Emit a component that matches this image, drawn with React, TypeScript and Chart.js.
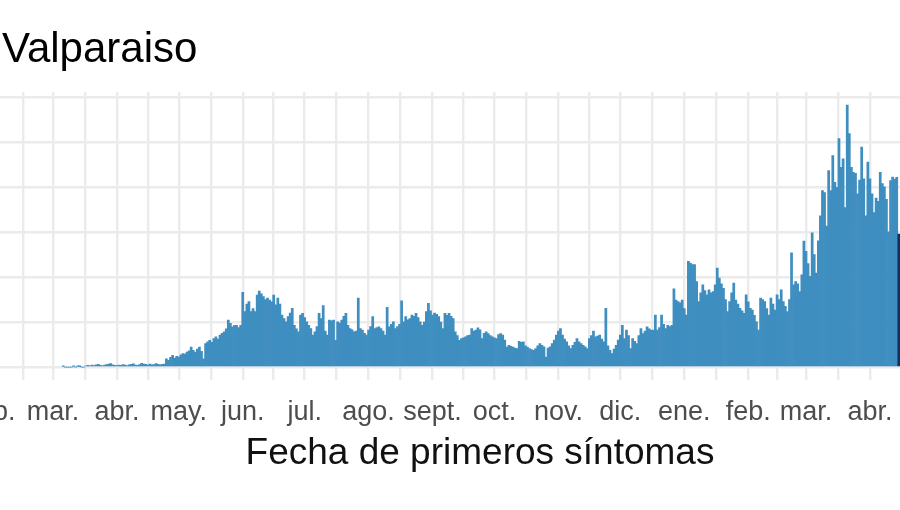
import React, { useEffect, useRef } from "react";
import { Chart, registerables } from "chart.js";

Chart.register(...registerables);

const TITLE = "Valparaiso";
const X_TITLE = "Fecha de primeros síntomas";
const FONT = '"Liberation Sans", Arial, Helvetica, sans-serif';

// month breaks (x axis) and their labels
const MONTH_DATES = [
  "2020-01-01", "2020-02-01", "2020-03-01", "2020-04-01", "2020-05-01", "2020-06-01",
  "2020-07-01", "2020-08-01", "2020-09-01", "2020-10-01", "2020-11-01",
  "2020-12-01", "2021-01-01", "2021-02-01", "2021-03-01", "2021-04-01",
  "2021-05-01", "2021-06-01",
];
const MONTH_LABELS = [
  "ene.", "feb.", "mar.", "abr.", "may.", "jun.", "jul.", "ago.", "sept.", "oct.",
  "nov.", "dic.", "ene.", "feb.", "mar.", "abr.", "may.", "jun.",
];

// y grid values (axis labels are cropped out of the picture)
const Y_GRID = [0, 200, 400, 600, 800, 1000, 1200];
const Y_MIN = -58;
const Y_MAX = 1221;

// visible date window, in days from 2020-03-01
const X_MIN = -40.2;
const X_MAX = 454.2;

// daily cases by date of first symptoms, starting at START_DATE
const START_DATE = "2020-03-06";
const CASES = [
  3, 0, 0, 0, 0, 3, 0, 3, 2, 0, 0,
  6, 8, 5, 9, 7, 10, 12, 8, 6, 9, 11, 14, 16, 10, 8, 7, 9, 8, 11, 9,
  7, 10, 12, 15, 9, 8, 11, 17, 13, 12, 9, 14, 10, 11, 16, 12, 10, 12, 13,
  37, 30, 44, 52, 40, 48, 45, 55, 60, 58,
  67, 72, 89, 75, 67, 80, 89, 70, 37, 105,
  112, 119, 110, 127, 134, 125, 142, 150, 157, 170,
  209, 194, 179, 185, 186, 175, 186, 332, 246, 280,
  291, 246, 260, 246, 320, 338, 325, 313, 300, 306,
  298, 290, 320, 276, 306, 280, 231, 215, 201, 224,
  240, 261, 186, 170, 157, 231, 239, 220, 201, 185,
  171, 142, 157, 180, 239, 215, 273, 160, 142, 209,
  205, 209, 119, 201, 195, 209, 225, 239, 186, 171,
  165, 157, 160, 306, 171, 164, 150, 142, 164, 180,
  224, 171, 175, 179, 171, 160, 142, 265, 179, 190,
  201, 171, 180, 190, 294, 201, 224, 210, 216, 231,
  225, 239, 220, 201, 186, 200, 246, 283, 250, 231,
  240, 234, 224, 200, 171, 239, 230, 239, 225, 216,
  157, 140, 119, 127, 130, 134, 140, 142, 171, 160,
  164, 174, 165, 127, 150, 157, 149, 140, 134, 130,
  127, 145, 149, 142, 120, 89, 97, 92, 89, 85,
  82, 115, 110, 112, 95, 89, 82, 78, 75, 82,
  95, 104, 97, 90, 45, 85, 90, 104, 120, 142,
  160, 171, 142, 125, 112, 95, 82, 97, 110, 127,
  112, 105, 97, 90, 82, 127, 140, 160, 134, 138,
  142, 125, 112, 261, 95, 75, 60, 80, 97, 120,
  142, 186, 127, 164, 140, 82, 127, 115, 104, 140,
  171, 149, 160, 179, 170, 164, 164, 231, 164, 175,
  231, 190, 171, 186, 180, 186, 347, 298, 291, 285,
  298, 260, 231, 470, 462, 455, 455, 380, 291, 330,
  365, 340, 321, 343, 330, 335, 365, 440, 395, 370,
  350, 300, 246, 291, 330, 373, 298, 280, 261, 250,
  239, 321, 290, 261, 253, 230, 201, 164, 306, 300,
  291, 260, 231, 306, 280, 253, 321, 300, 343, 291,
  270, 246, 300, 507, 365, 380, 370, 335, 410, 559,
  514, 460, 403, 596, 500, 417, 560, 671, 783, 775,
  626, 872, 783, 939, 820, 798, 1014, 887, 924, 708,
  1163, 1037, 887, 865, 860, 769, 830, 977, 836, 671,
  910, 836, 769, 686, 750, 736, 865, 815, 800, 745,
  600, 828, 843, 835, 842, 590,
];

const BAR_COLOR = "#3f8ec0";
const LAST_BAR_COLOR = "#12305f";
const GRID_COLOR = "#ebebeb";

const DAY_MS = 86400000;
const ORIGIN = Date.parse("2020-03-01T00:00:00Z");
const dayOf = (s: string) => Math.round((Date.parse(s + "T00:00:00Z") - ORIGIN) / DAY_MS);

const titlePlugin = {
  id: "plotTitle",
  afterDraw(chart: any) {
    const ctx = chart.ctx;
    ctx.save();
    ctx.font = `42px ${FONT}`;
    ctx.fillStyle = "#000000";
    ctx.textAlign = "left";
    ctx.textBaseline = "alphabetic";
    ctx.fillText(TITLE, 32, 62);
    ctx.restore();
  },
};

export default function App() {
  const ref = useRef<HTMLCanvasElement | null>(null);

  useEffect(() => {
    if (!ref.current) return;
    const start = dayOf(START_DATE);
    const points = CASES.map((v, i) => ({ x: start + i, y: v }));
    const colors = CASES.map((_, i) => (i === CASES.length - 1 ? LAST_BAR_COLOR : BAR_COLOR));

    const majors = MONTH_DATES.map(dayOf);
    const labelMap = new Map<number, string>();
    const tickValues: number[] = [];
    majors.forEach((d, i) => {
      if (d >= X_MIN && d <= X_MAX) {
        tickValues.push(d);
        labelMap.set(d, MONTH_LABELS[i]);
      }
      if (i < majors.length - 1) {
        const mid = (d + majors[i + 1]) / 2;
        if (mid >= X_MIN && mid <= X_MAX) tickValues.push(mid);
      }
    });
    tickValues.sort((a, b) => a - b);

    const chart = new Chart(ref.current, {
      type: "bar",
      data: {
        datasets: [
          {
            data: points as any,
            backgroundColor: colors,
            borderWidth: 0,
            barPercentage: 1,
            categoryPercentage: 1,
          },
        ],
      },
      options: {
        animation: false,
        responsive: false,
        events: [],
        layout: { padding: { top: 92, bottom: 34, left: 0, right: 0 } },
        plugins: {
          legend: { display: false },
          tooltip: { enabled: false },
          title: { display: false },
        },
        scales: {
          x: {
            type: "linear",
            min: X_MIN,
            max: X_MAX,
            bounds: "data",
            offset: false,
            grid: { offset: false, color: GRID_COLOR, lineWidth: 2.4, drawTicks: false },
            border: { display: false },
            afterBuildTicks: (s: any) => {
              s.ticks = tickValues.map((v) => ({ value: v }));
            },
            afterFit: (s: any) => {
              s.paddingLeft = 0;
              s.paddingRight = 0;
            },
            ticks: {
              autoSkip: false,
              maxRotation: 0,
              minRotation: 0,
              padding: 16,
              color: "#4d4d4d",
              font: { family: FONT, size: 27 },
              callback: (v: any) => labelMap.get(Number(v)) ?? "",
            },
            title: {
              display: true,
              text: X_TITLE,
              color: "#111111",
              font: { family: FONT, size: 37 },
              padding: { top: -13, bottom: 0 },
            },
          } as any,
          y: {
            type: "linear",
            min: Y_MIN,
            max: Y_MAX,
            grid: { color: GRID_COLOR, lineWidth: 2.4, drawTicks: false },
            border: { display: false },
            afterBuildTicks: (s: any) => {
              s.ticks = Y_GRID.map((v) => ({ value: v }));
            },
            afterFit: (s: any) => {
              s.width = 0;
              s.paddingTop = 0;
              s.paddingBottom = 0;
            },
            ticks: { display: false },
          } as any,
        },
      },
      plugins: [titlePlugin],
    });
    return () => chart.destroy();
  }, []);

  return (
    <div
      style={{
        position: "fixed",
        left: 0,
        top: 0,
        width: 900,
        height: 510,
        overflow: "hidden",
        background: "#ffffff",
      }}
    >
      <canvas
        ref={ref}
        width={1020}
        height={510}
        style={{ position: "absolute", left: -30, top: 0, width: 1020, height: 510 }}
      />
    </div>
  );
}
